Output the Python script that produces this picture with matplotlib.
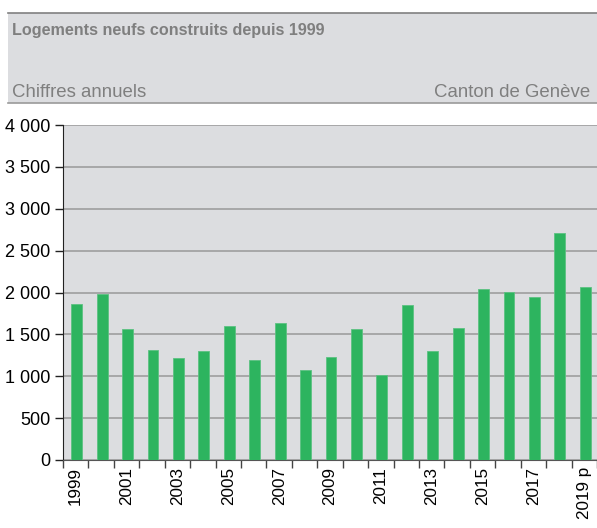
import matplotlib
matplotlib.use("Agg")
import matplotlib.pyplot as plt
from matplotlib.patches import Rectangle
from matplotlib.lines import Line2D
import numpy as np

plt.rcParams['font.family'] = ['Liberation Sans', 'DejaVu Sans']

years = [str(y) for y in range(1999, 2019)] + ["2019 p"]
values = [1860, 1980, 1560, 1315, 1215, 1300, 1600, 1195, 1640, 1075,
          1235, 1560, 1010, 1845, 1300, 1580, 2045, 2005, 1945, 2710, 2065]
yticks = [0, 500, 1000, 1500, 2000, 2500, 3000, 3500, 4000]
ytick_labels = ["0", "500", "1 000", "1 500", "2 000", "2 500", "3 000", "3 500", "4 000"]

W, H = 597, 528
fig = plt.figure(figsize=(W/100, H/100), dpi=100)

# header box
bg = "#dcdde0"
fig.patches.append(Rectangle((8/W, 1-103/H), (W-8)/W, 90/H, transform=fig.transFigure,
                             facecolor=bg, edgecolor="none", zorder=0))
fig.lines.append(Line2D([8/W, 1], [1-13/H, 1-13/H], transform=fig.transFigure, color="#808080", lw=1.2))
fig.lines.append(Line2D([8/W, 1], [1-103/H, 1-103/H], transform=fig.transFigure, color="#9a9a9a", lw=1.2))
tc = "#7f7f7f"
fig.text(12/W, 1-31/H, "Logements neufs construits depuis 1999", fontsize=11.6, fontweight="bold",
         color=tc, ha="left", va="center")
fig.text(12/W, 1-92/H, "Chiffres annuels", fontsize=13.4, color=tc, ha="left", va="center")
fig.text(590/W, 1-92/H, "Canton de Genève", fontsize=13.4, color=tc, ha="right", va="center")

ax = fig.add_axes([63/W, 1-460/H, (W-63)/W, 335/H])
ax.set_facecolor(bg)
x = np.arange(len(values))
ax.bar(x + 0.04, values, width=0.43, color="#2db45f", edgecolor="#5cc282", linewidth=0.6, zorder=3)
ax.set_xlim(-0.5, len(values)-0.5)
ax.set_ylim(0, 4000)
ax.set_yticks(yticks)
ax.set_yticklabels(ytick_labels, fontsize=13)
ax.yaxis.grid(True, color="#999999", lw=1.1, zorder=1)
ax.set_axisbelow(True)
for s in ["top", "right"]:
    ax.spines[s].set_visible(False)
ax.spines["left"].set_color("#222222")
ax.spines["bottom"].set_color("#555555")
ax.tick_params(axis="y", length=6, width=1, color="#222222", pad=3)

# x ticks at boundaries (minor), labels at odd years (major, no tick)
ax.set_xticks(np.arange(-0.5, len(values), 1), minor=True)
lab_idx = list(range(0, len(values), 2))
ax.set_xticks(lab_idx)
ax.set_xticklabels([years[i] for i in lab_idx], rotation=90, fontsize=12.3)
ax.tick_params(axis="x", which="major", length=0, pad=5)
ax.tick_params(axis="x", which="minor", length=6, width=1, color="#444444")

fig.savefig("out.png", dpi=100)
